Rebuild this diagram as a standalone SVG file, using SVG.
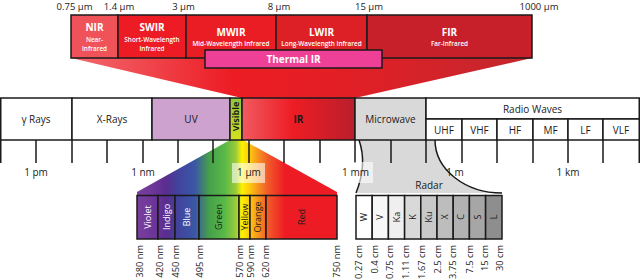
<svg xmlns="http://www.w3.org/2000/svg" width="640" height="280" viewBox="0 0 640 280">
<style>
text{font-family:"Open Sans","Noto Sans","Liberation Sans",sans-serif;fill:#1a1a1a}
.box{stroke:#1a1a1a;stroke-width:1.5}
.t10{font-size:10px;text-anchor:middle}
.top{font-size:9.5px;text-anchor:middle}
.ttl{font-size:10px;font-weight:bold;text-anchor:middle;fill:#fff}
.sub{font-size:6.4px;font-weight:600;text-anchor:middle;fill:#fff}
.rot{font-size:9px;text-anchor:middle}
.lbl{font-size:9.3px;text-anchor:end}
.tick{stroke:#1a1a1a;stroke-width:1.5;fill:none}
.w{fill:#fff}
</style>
<defs>
<linearGradient id="gFun" gradientUnits="userSpaceOnUse" x1="71" y1="0" x2="532" y2="0">
<stop offset="0" stop-color="#f26a70"/><stop offset="0.35" stop-color="#ed1c24"/><stop offset="0.6" stop-color="#e21f26"/><stop offset="1" stop-color="#c1272d"/>
</linearGradient>
<linearGradient id="gIR" x1="0" y1="0" x2="1" y2="0">
<stop offset="0" stop-color="#f05a60"/><stop offset="0.45" stop-color="#ed1c24"/><stop offset="1" stop-color="#b91f2c"/>
</linearGradient>
<linearGradient id="gVis" x1="0" y1="0" x2="0" y2="1">
<stop offset="0" stop-color="#8dc63f"/><stop offset="1" stop-color="#d4e021"/>
</linearGradient>
<linearGradient id="gSpec" gradientUnits="userSpaceOnUse" x1="137" y1="0" x2="337" y2="0">
<stop offset="0" stop-color="#7a3f9e"/><stop offset="0.09" stop-color="#6a3597"/><stop offset="0.145" stop-color="#5a2d8f"/><stop offset="0.205" stop-color="#41439c"/><stop offset="0.29" stop-color="#3b57a6"/><stop offset="0.36" stop-color="#45a04a"/><stop offset="0.44" stop-color="#5ab947"/><stop offset="0.495" stop-color="#9ccb3b"/><stop offset="0.525" stop-color="#fff200"/><stop offset="0.565" stop-color="#fdc70f"/><stop offset="0.605" stop-color="#f7941d"/><stop offset="0.655" stop-color="#f15a29"/><stop offset="0.74" stop-color="#ed1c24"/><stop offset="1" stop-color="#ed1c24"/>
</linearGradient>
</defs>

<g id="connectors">
<polygon points="71,58 532,58 355,98 242,98" fill="url(#gFun)"/>
<polygon points="230,140 243,140 337,192 337,196 137,196 137,192" fill="url(#gSpec)"/>
<path d="M359,140 C366,160 362,178 356,193 L502,193 A67,53 0 0 1 435,140 Z" fill="#d9d9d9"/>
<path d="M359,140 C366,160 362,178 356,193" class="tick"/>
<path d="M435,140 A67,53 0 0 0 502,193" class="tick"/>
</g>

<g id="top-scale">
<text class="top" x="74.5" y="10">0.75 µm</text>
<text class="top" x="119" y="10">1.4 µm</text>
<text class="top" x="183.5" y="10">3 µm</text>
<text class="top" x="279" y="10">8 µm</text>
<text class="top" x="369" y="10">15 µm</text>
<text class="top" x="539" y="10">1000 µm</text>
</g>

<g id="nir"><rect class="box" x="71" y="15" width="47" height="43" fill="#ef5359"/>
<text class="ttl" x="94.5" y="31">NIR</text><text class="sub" x="94.5" y="41.5">Near-</text><text class="sub" x="94.5" y="50.5">Infrared</text></g>
<g id="swir"><rect class="box" x="118" y="15" width="68" height="43" fill="#ed1c24"/>
<text class="ttl" x="152" y="31">SWIR</text><text class="sub" x="152" y="41.5">Short-Wavelength</text><text class="sub" x="152" y="50.5">Infrared</text></g>
<g id="mwir"><rect class="box" x="186" y="15" width="90" height="43" fill="#ea1c24"/>
<text class="ttl" x="231" y="36">MWIR</text><text class="sub" x="231" y="46">Mid-Wavelength Infrared</text></g>
<g id="lwir"><rect class="box" x="276" y="15" width="91" height="43" fill="#dd1f26"/>
<text class="ttl" x="321.5" y="36">LWIR</text><text class="sub" x="321.5" y="46">Long-Wavelength Infrared</text></g>
<g id="fir"><rect class="box" x="367" y="15" width="165" height="43" fill="#c8202b"/>
<text class="ttl" x="449.5" y="36">FIR</text><text class="sub" x="449.5" y="46">Far-Infrared</text></g>
<g id="thermal"><rect class="box" x="205" y="50" width="177" height="18" fill="#ef4097"/>
<text class="ttl" x="293.5" y="62.5">Thermal IR</text></g>

<g id="gamma"><rect class="box w" x="0.75" y="98" width="71.25" height="42"/><text class="t10" x="36" y="123">γ Rays</text></g>
<g id="xrays"><rect class="box w" x="72" y="98" width="80" height="42"/><text class="t10" x="112" y="123">X-Rays</text></g>
<g id="uv"><rect class="box" x="152" y="98" width="78" height="42" fill="#cda2ce"/><text class="t10" x="191" y="123">UV</text></g>
<g id="visible"><rect class="box" x="230" y="98" width="12" height="42" fill="url(#gVis)"/>
<text transform="translate(236,116.5) rotate(-90)" dy="0.35em" style="font-size:9px;font-weight:bold;text-anchor:middle">Visible</text></g>
<g id="ir"><rect class="box" x="242" y="98" width="113" height="42" fill="url(#gIR)"/><text class="t10" x="298.5" y="123" style="font-weight:bold">IR</text></g>
<g id="microwave"><rect class="box" x="355" y="98" width="71" height="42" fill="#d9d9d9"/><text class="t10" x="390.5" y="123">Microwave</text></g>
<g id="radio"><rect class="box w" x="426" y="98" width="213.25" height="21"/><text class="t10" x="532.5" y="113">Radio Waves</text>
<rect class="box w" x="426" y="119" width="36" height="21"/><text class="t10" x="444" y="133.5">UHF</text>
<rect class="box w" x="462" y="119" width="35" height="21"/><text class="t10" x="479.5" y="133.5">VHF</text>
<rect class="box w" x="497" y="119" width="36" height="21"/><text class="t10" x="515" y="133.5">HF</text>
<rect class="box w" x="533" y="119" width="35" height="21"/><text class="t10" x="550.5" y="133.5">MF</text>
<rect class="box w" x="568" y="119" width="35" height="21"/><text class="t10" x="585.5" y="133.5">LF</text>
<rect class="box w" x="603" y="119" width="36.25" height="21"/><text class="t10" x="621" y="133.5">VLF</text></g>

<g id="axis">
<path class="tick" d="M0.75,140V163M36,140V163M72,140V163M107,140V163M143,140V163M178,140V163M213,140V163M249,140V163M284,140V163M320,140V163M355,140V163M391,140V163M426,140V163M462,140V163M497,140V163M533,140V163M568,140V163M603,140V163M639.25,140V163"/>
<rect x="232" y="163" width="33" height="20" fill="#fff" fill-opacity="0.6"/>
<rect x="340" y="162" width="33" height="21" fill="#fff" fill-opacity="0.6"/>
<text class="t10" x="36" y="176">1 pm</text>
<text class="t10" x="143" y="176">1 nm</text>
<text class="t10" x="249" y="176">1 µm</text>
<text class="t10" x="355.5" y="176">1 mm</text>
<text class="t10" x="455" y="176">1 m</text>
<text class="t10" x="568" y="176">1 km</text>
<text class="t10" x="429" y="189">Radar</text>
</g>

<g id="spectrum">
<rect class="box" x="137" y="195.5" width="21" height="43.5" fill="url(#gSpec)"/>
<rect class="box" x="158" y="195.5" width="17" height="43.5" fill="url(#gSpec)"/>
<rect class="box" x="175" y="195.5" width="24" height="43.5" fill="url(#gSpec)"/>
<rect class="box" x="199" y="195.5" width="40" height="43.5" fill="url(#gSpec)"/>
<rect class="box" x="239" y="195.5" width="11" height="43.5" fill="url(#gSpec)"/>
<rect class="box" x="250" y="195.5" width="16" height="43.5" fill="url(#gSpec)"/>
<rect class="box" x="266" y="195.5" width="71" height="43.5" fill="url(#gSpec)"/>
<text class="rot" transform="translate(147.5,217) rotate(-90)" dy="0.35em" style="fill:#fff">Violet</text>
<text class="rot" transform="translate(166.5,217) rotate(-90)" dy="0.35em" style="fill:#fff">Indigo</text>
<text class="rot" transform="translate(187,217) rotate(-90)" dy="0.35em" style="fill:#fff">Blue</text>
<text class="rot" transform="translate(219,217) rotate(-90)" dy="0.35em">Green</text>
<text class="rot" transform="translate(244.5,217) rotate(-90)" dy="0.35em">Yellow</text>
<text class="rot" transform="translate(258,217) rotate(-90)" dy="0.35em">Orange</text>
<text class="rot" transform="translate(301.5,217) rotate(-90)" dy="0.35em">Red</text>
<text class="lbl" transform="translate(140,245) rotate(-90)" dy="0.35em">380 nm</text>
<text class="lbl" transform="translate(159.7,245) rotate(-90)" dy="0.35em">420 nm</text>
<text class="lbl" transform="translate(176,245) rotate(-90)" dy="0.35em">450 nm</text>
<text class="lbl" transform="translate(200,245) rotate(-90)" dy="0.35em">495 nm</text>
<text class="lbl" transform="translate(240,245) rotate(-90)" dy="0.35em">570 nm</text>
<text class="lbl" transform="translate(251,245) rotate(-90)" dy="0.35em">590 nm</text>
<text class="lbl" transform="translate(266,245) rotate(-90)" dy="0.35em">620 nm</text>
<text class="lbl" transform="translate(336.5,245) rotate(-90)" dy="0.35em">750 nm</text>
</g>

<g id="radar">
<rect class="box" x="356" y="195.5" width="16.2" height="43.5" fill="#ffffff"/>
<rect class="box" x="372.2" y="195.5" width="16.2" height="43.5" fill="#f7f7f7"/>
<rect class="box" x="388.4" y="195.5" width="16.2" height="43.5" fill="#efefef"/>
<rect class="box" x="404.6" y="195.5" width="16.2" height="43.5" fill="#d9d9d9"/>
<rect class="box" x="420.8" y="195.5" width="16.2" height="43.5" fill="#c9c9c9"/>
<rect class="box" x="437" y="195.5" width="16.2" height="43.5" fill="#bdbdbd"/>
<rect class="box" x="453.2" y="195.5" width="16.2" height="43.5" fill="#b2b2b2"/>
<rect class="box" x="469.4" y="195.5" width="16.2" height="43.5" fill="#a6a6a6"/>
<rect class="box" x="485.6" y="195.5" width="16.4" height="43.5" fill="#8e8e8e"/>
<text class="rot" transform="translate(364,217) rotate(-90)" dy="0.35em">W</text>
<text class="rot" transform="translate(380.3,217) rotate(-90)" dy="0.35em">V</text>
<text class="rot" transform="translate(396.5,217) rotate(-90)" dy="0.35em">Ka</text>
<text class="rot" transform="translate(412.7,217) rotate(-90)" dy="0.35em">K</text>
<text class="rot" transform="translate(428.9,217) rotate(-90)" dy="0.35em">Ku</text>
<text class="rot" transform="translate(445.1,217) rotate(-90)" dy="0.35em">X</text>
<text class="rot" transform="translate(461.3,217) rotate(-90)" dy="0.35em">C</text>
<text class="rot" transform="translate(477.5,217) rotate(-90)" dy="0.35em">S</text>
<text class="rot" transform="translate(493.8,217) rotate(-90)" dy="0.35em">L</text>
<text class="lbl" transform="translate(359,245) rotate(-90)" dy="0.35em">0.27 cm</text>
<text class="lbl" transform="translate(374.5,245) rotate(-90)" dy="0.35em">0.4 cm</text>
<text class="lbl" transform="translate(390,245) rotate(-90)" dy="0.35em">0.75 cm</text>
<text class="lbl" transform="translate(405.5,245) rotate(-90)" dy="0.35em">1.11 cm</text>
<text class="lbl" transform="translate(422,245) rotate(-90)" dy="0.35em">1.67 cm</text>
<text class="lbl" transform="translate(438,245) rotate(-90)" dy="0.35em">2.5 cm</text>
<text class="lbl" transform="translate(453,245) rotate(-90)" dy="0.35em">3.75 cm</text>
<text class="lbl" transform="translate(470,245) rotate(-90)" dy="0.35em">7.5 cm</text>
<text class="lbl" transform="translate(485,245) rotate(-90)" dy="0.35em">15 cm</text>
<text class="lbl" transform="translate(499.5,245) rotate(-90)" dy="0.35em">30 cm</text>
</g>
</svg>
